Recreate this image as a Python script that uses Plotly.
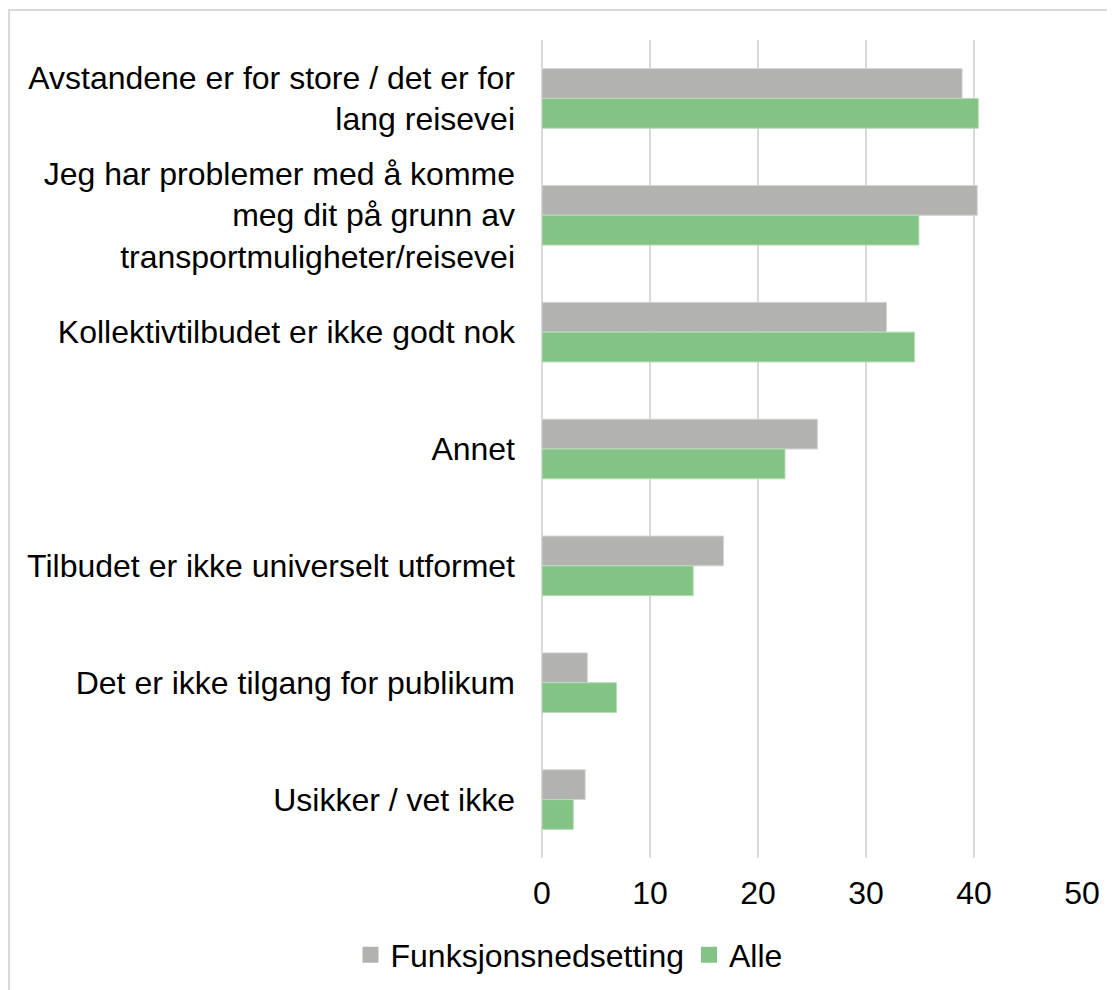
import plotly.graph_objects as go

# Kategorier og verdier (prosent)
categories = [
    "Avstandene er for store / det er for<br>lang reisevei",
    "Jeg har problemer med å komme<br>meg dit på grunn av<br>transportmuligheter/reisevei",
    "Kollektivtilbudet er ikke godt nok",
    "Annet",
    "Tilbudet er ikke universelt utformet",
    "Det er ikke tilgang for publikum",
    "Usikker / vet ikke",
]
funksjonsnedsetting = [38.9, 40.3, 31.9, 25.5, 16.8, 4.2, 4.0]
alle = [40.4, 34.9, 34.5, 22.5, 14.0, 6.9, 2.9]

series = [
    ("Funksjonsnedsetting", funksjonsnedsetting, "#B2B3B1", "#D4D5D3"),
    ("Alle", alle, "#84C386", "#B5DDB6"),
]

FONT = "Liberation Sans, Arial, sans-serif"

fig = go.Figure()
for name, values, color, edge in series:
    fig.add_trace(go.Bar(
        y=categories, x=values, name=name, orientation="h", showlegend=False,
        marker=dict(color=color, line=dict(color=edge, width=1)),
    ))
# egne legendeelementer med større firkanter
for name, values, color, edge in series:
    fig.add_trace(go.Scatter(
        x=[None], y=[None], name=name, mode="markers",
        marker=dict(symbol="square", size=18, color=color),
    ))

# siden har 8px marg, så figuren flyttes tilsvarende
fig.update_layout(
    width=1115, height=990,
    margin=dict(l=534, r=41, t=32, b=140),
    paper_bgcolor="white", plot_bgcolor="white",
    font=dict(family=FONT, size=32, color="#000000"),
    barmode="group", bargap=0.49, bargroupgap=0,
    legend=dict(
        orientation="h", x=0.05, xanchor="center", y=-0.085, yanchor="top",
        font=dict(size=32), itemwidth=30, traceorder="normal",
    ),
    shapes=[dict(
        type="rect", xref="paper", yref="paper",
        x0=-533 / 540, x1=1.2, y0=-160 / 818, y1=1 + 30 / 818,
        line=dict(color="#D9D9D9", width=2), layer="below",
    )],
)
fig.update_xaxes(
    range=[0, 50], dtick=10, showgrid=True, gridcolor="#D9D9D9", gridwidth=1.5,
    zeroline=True, zerolinecolor="#D9D9D9", zerolinewidth=1.5,
    ticks="", showline=False, tickfont=dict(size=32), ticklabelstandoff=13,
)
fig.update_yaxes(
    autorange="reversed", showgrid=False, ticks="", showline=False,
    tickfont=dict(size=32), ticklabelstandoff=26,
)

fig.write_html("out.html")
